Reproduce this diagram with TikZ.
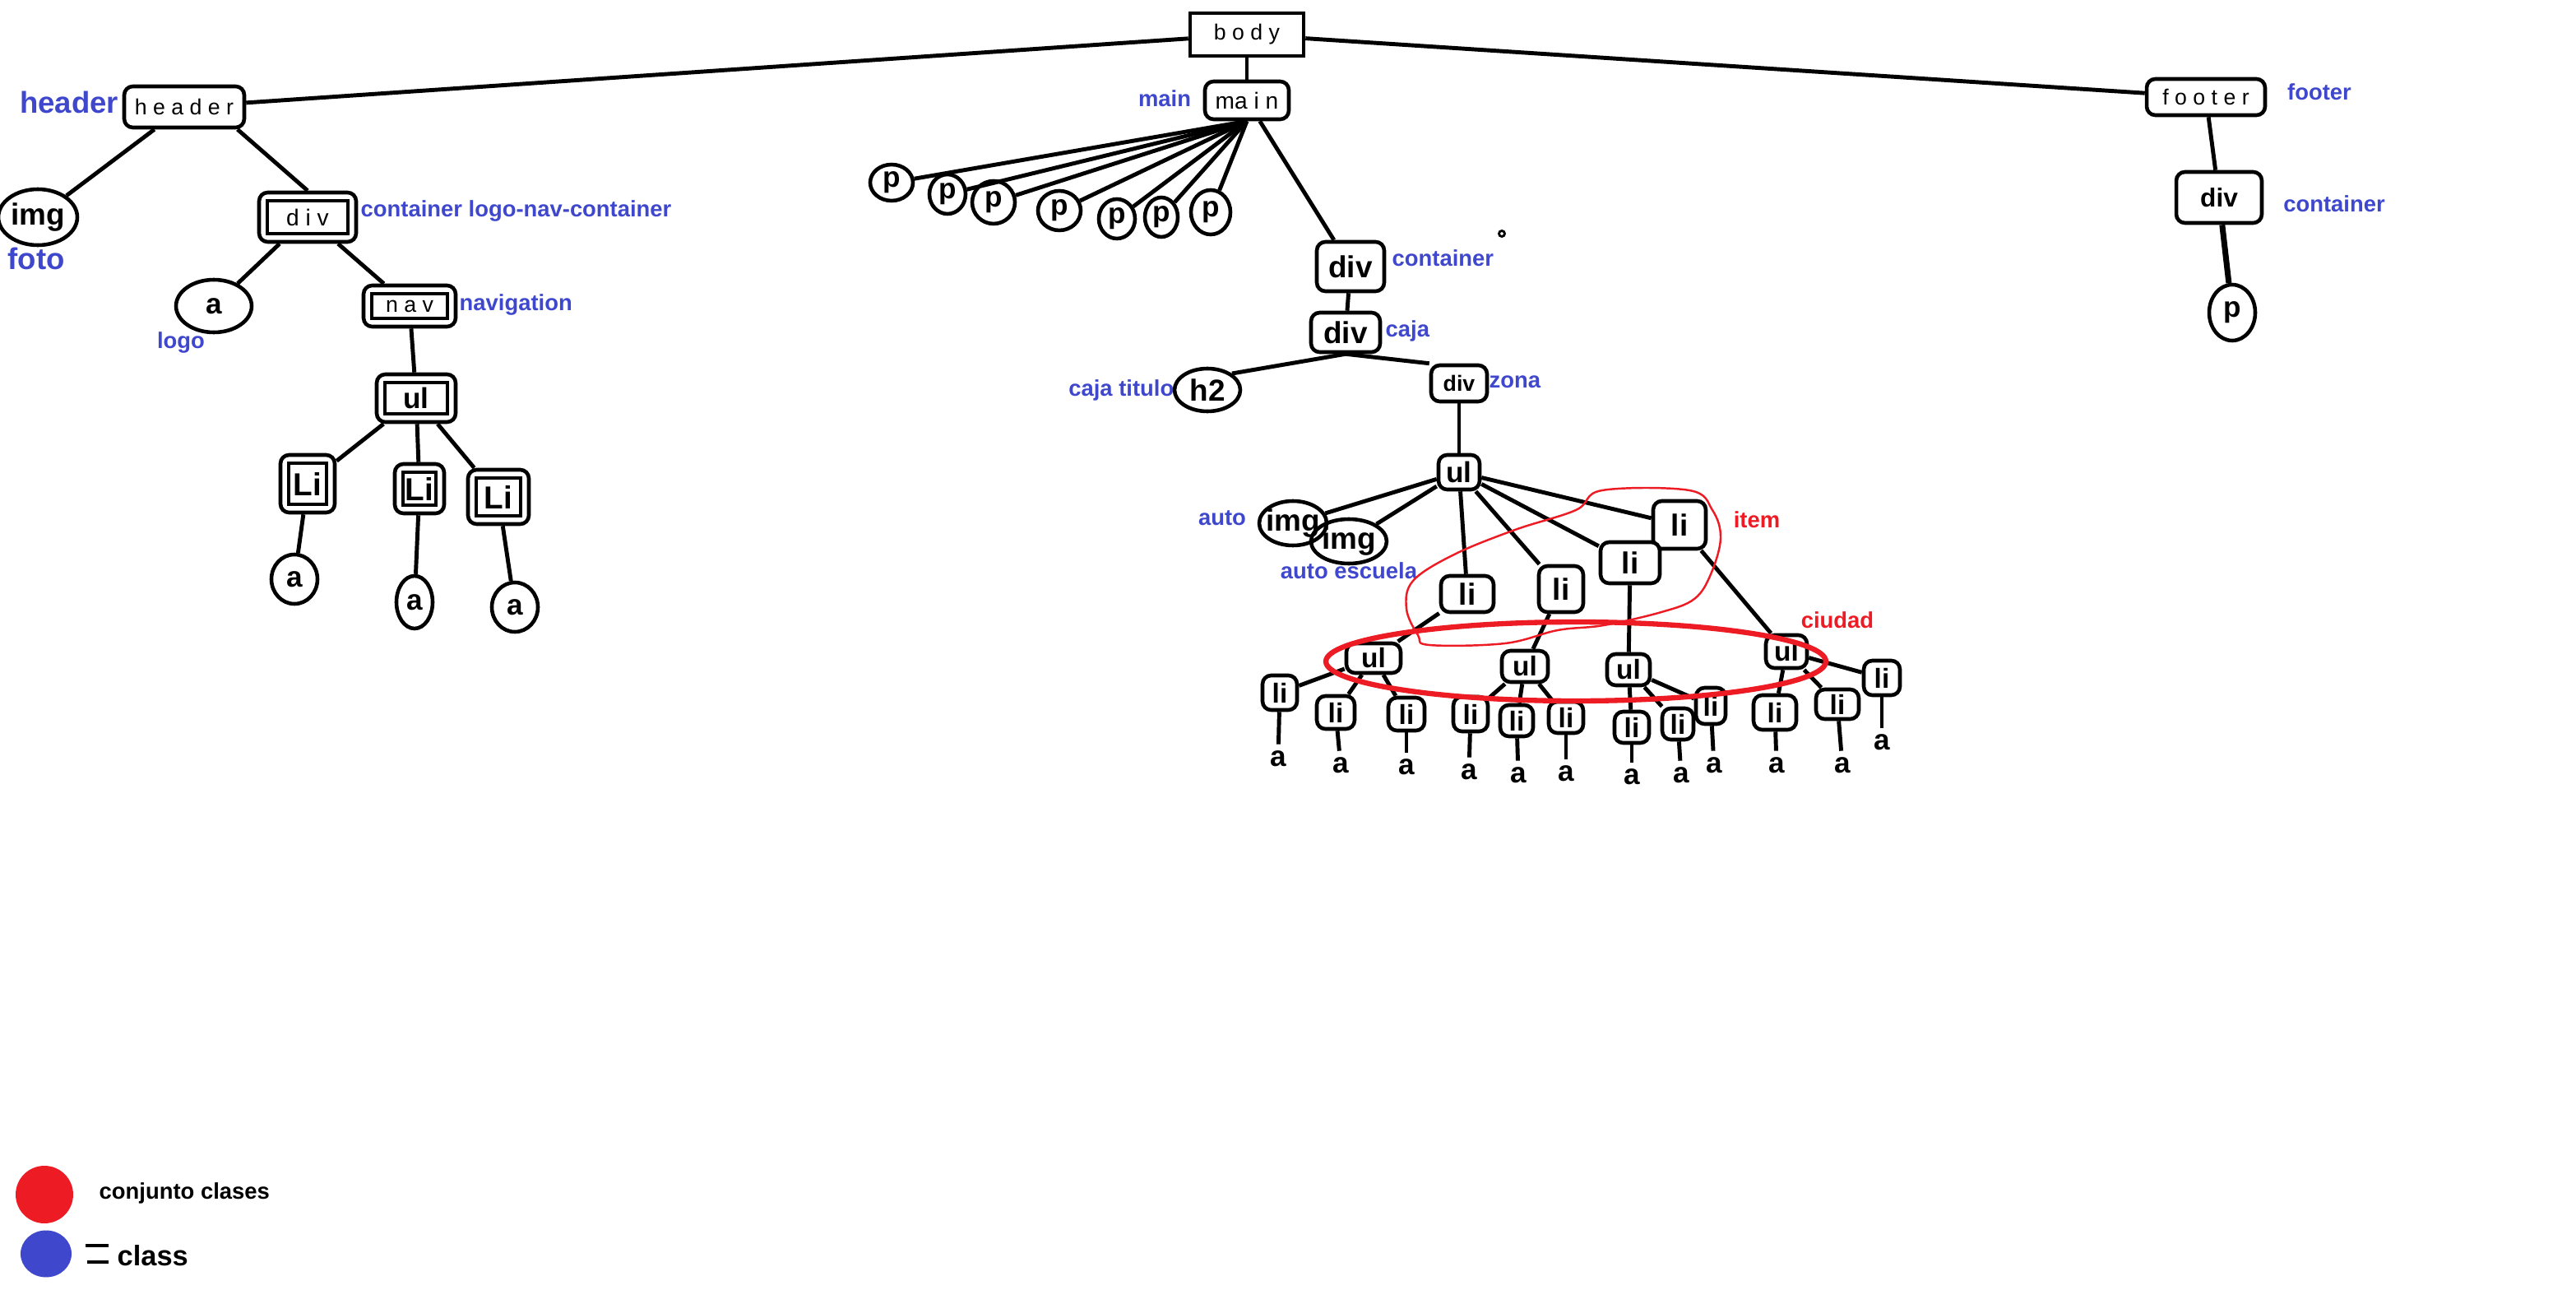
\documentclass[tikz,border=0pt]{standalone}
\usepackage{fontspec}
\setmainfont{Liberation Sans}
\usepackage{tikz}
\usetikzlibrary{shapes.geometric, positioning, calc}
\definecolor{clsblue}{RGB}{63,72,204}
\definecolor{setred}{RGB}{237,28,36}

\begin{document}
\begin{tikzpicture}[
  x=0.02cm, y=-0.02cm,
  sz/.style 2 args={minimum width=#1cm, minimum height=#2cm},
  fsz/.style={font=\fontsize{#1}{#1}\selectfont},
  bsz/.style={font=\bfseries\fontsize{#1}{#1}\selectfont},
  tag/.style={rectangle, draw, rounded corners=3pt, line width=1.3pt, fill=white, inner sep=0pt, bsz=10},
  dbl/.style={tag, path picture={\draw[line width=1.2pt, sharp corners] ([shift={(2.8pt,-2.8pt)}]path picture bounding box.north west) rectangle ([shift={(-2.8pt,2.8pt)}]path picture bounding box.south east);}},
  oval/.style={ellipse, draw, line width=1.3pt, inner sep=-2pt, bsz=10},
  leaf/.style={inner sep=2pt, bsz=10},
  cls/.style={text=clsblue, inner sep=0pt, bsz=7.8},
  grp/.style={text=setred, inner sep=0pt, bsz=7.8},
  wire/.style={line width=1.4pt}
]
  \useasboundingbox (0,0) rectangle (1566,784);

  \node[rectangle, draw, line width=1.3pt, inner sep=0pt, sz={1.38}{0.52}, fsz=7.6] (body) at (758,21) {b o d y};
  \node[tag, fsz=7.6, sz={1.46}{0.50}] (header) at (112,65) {h e a d e r};
  \node[tag, fsz=8, sz={1.02}{0.46}] (main) at (758,61) {ma i n};
  \node[tag, fsz=7.6, sz={1.44}{0.44}] (footer) at (1341,59) {f o o t e r};

  \node[oval, bsz=10.5, sz={0.96}{0.68}] (himg) at (23,132) {img};
  \node[dbl, fsz=8, sz={1.18}{0.60}] (hdiv) at (187,132) {d i v};
  \node[oval, sz={0.92}{0.64}] (logo) at (130,186) {a};
  \node[dbl, fsz=7.6, sz={1.12}{0.50}] (nav) at (249,186) {n a v};
  \node[dbl, sz={0.96}{0.58}] (navul) at (253,242) {ul};
  \node[dbl, bsz=11, sz={0.66}{0.70}] (navli1) at (187,294) {Li};
  \node[dbl, bsz=11, sz={0.60}{0.60}] (navli2) at (255,297) {Li};
  \node[dbl, bsz=11, sz={0.74}{0.66}] (navli3) at (303,302) {Li};
  \node[oval, sz={0.56}{0.60}] (nava1) at (179,352) {a};
  \node[oval, sz={0.44}{0.64}] (nava2) at (252,366) {a};
  \node[oval, sz={0.56}{0.60}] (nava3) at (313,369) {a};

  \node[oval, sz={0.52}{0.44}] (p1) at (542,111) {p};
  \node[oval, sz={0.44}{0.48}] (p2) at (576,118) {p};
  \node[oval, sz={0.52}{0.52}] (p3) at (604,123) {p};
  \node[oval, sz={0.52}{0.48}] (p4) at (644,128) {p};
  \node[oval, sz={0.44}{0.48}] (p5) at (679,133) {p};
  \node[oval, sz={0.40}{0.48}] (p6) at (706,132) {p};
  \node[oval, sz={0.48}{0.54}] (p7) at (736,129) {p};

  \node[tag, bsz=10.5, sz={0.82}{0.60}] (cont) at (821,162) {div};
  \node[tag, bsz=10.5, sz={0.84}{0.48}] (caja) at (818,202) {div};
  \node[oval, bsz=10.5, sz={0.80}{0.52}] (titulo) at (734,237) {h2};
  \node[tag, bsz=7.6, sz={0.68}{0.44}] (zona) at (887,233) {div};
  \node[tag, sz={0.50}{0.42}] (zonaul) at (887,287) {ul};
  \node[oval, bsz=10.5, sz={0.82}{0.54}] (auto) at (786,318) {img};
  \node[oval, bsz=10.5, sz={0.92}{0.54}] (escuela) at (820,329) {img};
  \node[tag, bsz=10.5, sz={0.64}{0.58}] (itemD) at (1021,319) {li};
  \node[tag, bsz=10.5, sz={0.72}{0.50}] (itemC) at (991,342) {li};
  \node[tag, bsz=10.5, sz={0.54}{0.56}] (itemB) at (949,358) {li};
  \node[tag, bsz=10.5, sz={0.64}{0.44}] (itemA) at (892,361) {li};

  \node[tag, bsz=9.5, sz={0.66}{0.36}] (cityA) at (835,400) {ul};
  \node[tag, bsz=9.5, sz={0.56}{0.38}] (cityB) at (927,405) {ul};
  \node[tag, bsz=9.5, sz={0.52}{0.38}] (cityC) at (990,407) {ul};
  \node[tag, bsz=9.5, sz={0.50}{0.40}] (cityD) at (1086,396) {ul};

  \node[tag, bsz=9.5, sz={0.42}{0.42}] (liA1) at (778,421) {li};
  \node[tag, bsz=9.5, sz={0.46}{0.40}] (liA2) at (812,433) {li};
  \node[tag, bsz=9.5, sz={0.44}{0.40}] (liA3) at (855,434) {li};
  \node[tag, bsz=9.5, sz={0.42}{0.42}] (liB1) at (894,434) {li};
  \node[tag, bsz=9.5, sz={0.40}{0.38}] (liB2) at (922,438) {li};
  \node[tag, bsz=9.5, sz={0.42}{0.38}] (liB3) at (952,436) {li};
  \node[tag, bsz=9.5, sz={0.42}{0.38}] (liC1) at (992,442) {li};
  \node[tag, bsz=9.5, sz={0.38}{0.38}] (liC2) at (1020,440) {li};
  \node[tag, bsz=9.5, sz={0.36}{0.44}] (liC3) at (1040,429) {li};
  \node[tag, bsz=9.5, sz={0.52}{0.42}] (liD1) at (1079,433) {li};
  \node[tag, bsz=9.5, sz={0.52}{0.36}] (liD2) at (1117,428) {li};
  \node[tag, bsz=9.5, sz={0.44}{0.42}] (liD3) at (1144,412) {li};

  \node[leaf] (aA1) at (777,461) {a};
  \node[leaf] (aA2) at (815,465) {a};
  \node[leaf] (aA3) at (855,466) {a};
  \node[leaf] (aB1) at (893,469) {a};
  \node[leaf] (aB2) at (923,471) {a};
  \node[leaf] (aB3) at (952,470) {a};
  \node[leaf] (aC1) at (992,472) {a};
  \node[leaf] (aC2) at (1022,471) {a};
  \node[leaf] (aC3) at (1042,465) {a};
  \node[leaf] (aD1) at (1080,465) {a};
  \node[leaf] (aD2) at (1120,465) {a};
  \node[leaf] (aD3) at (1144,451) {a};

  \node[tag, bsz=9, sz={1.04}{0.62}] (fdiv) at (1349,120) {div};
  \node[oval, sz={0.56}{0.68}] (fp) at (1357,190) {p};

  \node[cls, bsz=10.4] (lblheader) at (42,62) {header};
  \node[cls, bsz=10.4] (lblfoto) at (22,157) {foto};
  \node[cls, anchor=west] (lblhdiv) at (219,128) {container logo-nav-container};
  \node[cls] (lbllogo) at (110,208) {logo};
  \node[cls, anchor=west] (lblnav) at (279,185) {navigation};
  \node[cls] (lblmain) at (708,60) {main};
  \node[cls, anchor=west] (lblcont) at (846,157) {container};
  \node[cls, anchor=west] (lblcaja) at (842,201) {caja};
  \node[cls, anchor=east] (lbltitulo) at (714,237) {caja titulo};
  \node[cls, anchor=west] (lblzona) at (905,232) {zona};
  \node[cls] (lblauto) at (743,315) {auto};
  \node[cls] (lblescuela) at (820,347) {auto escuela};
  \node[cls] (lblfooter) at (1410,56) {footer};
  \node[cls] (lblfdiv) at (1419,124) {container};
  \node[grp] (lblitem) at (1068,316) {item};
  \node[grp] (lblciudad) at (1117,377) {ciudad};

  \draw[wire] (body) -- (header);
  \draw[wire] (body) -- (main);
  \draw[wire] (body) -- (footer);

  \draw[wire] (header) -- (himg);
  \draw[wire] ([xshift=-3pt]header.south east) -- (hdiv.north);
  \draw[wire] (hdiv) -- (logo);
  \draw[wire] (hdiv) -- (nav);
  \draw[wire] (nav) -- (navul);
  \draw[wire] (navul) -- (navli1);
  \draw[wire] (navul) -- (navli2);
  \draw[wire] (navul) -- (navli3);
  \draw[wire] (navli1) -- (nava1);
  \draw[wire] (navli2) -- (nava2);
  \draw[wire] (navli3) -- (nava3);

  \draw[wire] (main.south) -- (p1);
  \draw[wire] (main.south) -- (p2);
  \draw[wire] (main.south) -- (p3);
  \draw[wire] (main.south) -- (p4);
  \draw[wire] (main.south) -- (p5);
  \draw[wire] (main.south) -- (p6);
  \draw[wire] (main.south) -- (p7);
  \draw[wire] (main) -- (cont);
  \draw[wire] (cont) -- (caja);
  \draw[wire] (caja.south) -- (titulo.north east);
  \draw[wire] (caja.south) -- (zona.north west);
  \draw[wire] (zona) -- (zonaul);
  \draw[wire] (zonaul) -- (auto);
  \draw[wire] (zonaul) -- (escuela);
  \draw[wire] (zonaul) -- (itemA);
  \draw[wire] (zonaul) -- (itemB);
  \draw[wire] (zonaul) -- (itemC);
  \draw[wire] (zonaul) -- (itemD);
  \draw[wire] (itemA) -- (cityA);
  \draw[wire] (itemB) -- (cityB);
  \draw[wire] (itemC) -- (cityC);
  \draw[wire] (itemD) -- (cityD);

  \draw[wire] (cityA) -- (liA1);
  \draw[wire] (cityA) -- (liA2);
  \draw[wire] (cityA) -- (liA3);
  \draw[wire] (cityB) -- (liB1);
  \draw[wire] (cityB) -- (liB2);
  \draw[wire] (cityB) -- (liB3);
  \draw[wire] (cityC) -- (liC1);
  \draw[wire] (cityC) -- (liC2);
  \draw[wire] (cityC) -- (liC3);
  \draw[wire] (cityD) -- (liD1);
  \draw[wire] (cityD) -- (liD2);
  \draw[wire] (cityD) -- (liD3);

  \draw[wire] (liA1) -- (aA1);
  \draw[wire] (liA2) -- (aA2);
  \draw[wire] (liA3) -- (aA3);
  \draw[wire] (liB1) -- (aB1);
  \draw[wire] (liB2) -- (aB2);
  \draw[wire] (liB3) -- (aB3);
  \draw[wire] (liC1) -- (aC1);
  \draw[wire] (liC2) -- (aC2);
  \draw[wire] (liC3) -- (aC3);
  \draw[wire] (liD1) -- (aD1);
  \draw[wire] (liD2) -- (aD2);
  \draw[wire] (liD3) -- (aD3);

  \draw[wire] (footer) -- (fdiv);
  \draw[line width=2pt] (fdiv) -- (fp);

  \draw[line width=0.8pt] (913,142) circle[radius=0.035cm];

  \draw[setred, line width=1.8pt] (958,402) ellipse [x radius=3.04cm, y radius=0.48cm];
  \draw[setred, line width=0.7pt] plot[smooth cycle, tension=0.6] coordinates {(974,298) (1027,298) (1041,310) (1046,327) (1040,349) (1030,364) (1010,372) (975,380) (947,383) (915,391) (869,392) (862,386) (855,370) (859,353) (884,337) (921,322) (958,310)};

  \node[circle, fill=setred, inner sep=0pt, minimum size=0.70cm] (keyset) at (27,726) {};
  \node[ellipse, fill=clsblue, inner sep=0pt, minimum width=0.62cm, minimum height=0.57cm] (keycls) at (28,762) {};
  \node[bsz=7.8, anchor=west, inner sep=0pt] (keysettxt) at (60,725) {conjunto clases};
  \draw[line width=1.3pt] (52,757) -- (66,757);
  \draw[line width=1.3pt] (53,767) -- (66,767);
  \node[bsz=9.8, anchor=west, inner sep=0pt] (keyclstxt) at (71,763) {class};
\end{tikzpicture}
\end{document}
